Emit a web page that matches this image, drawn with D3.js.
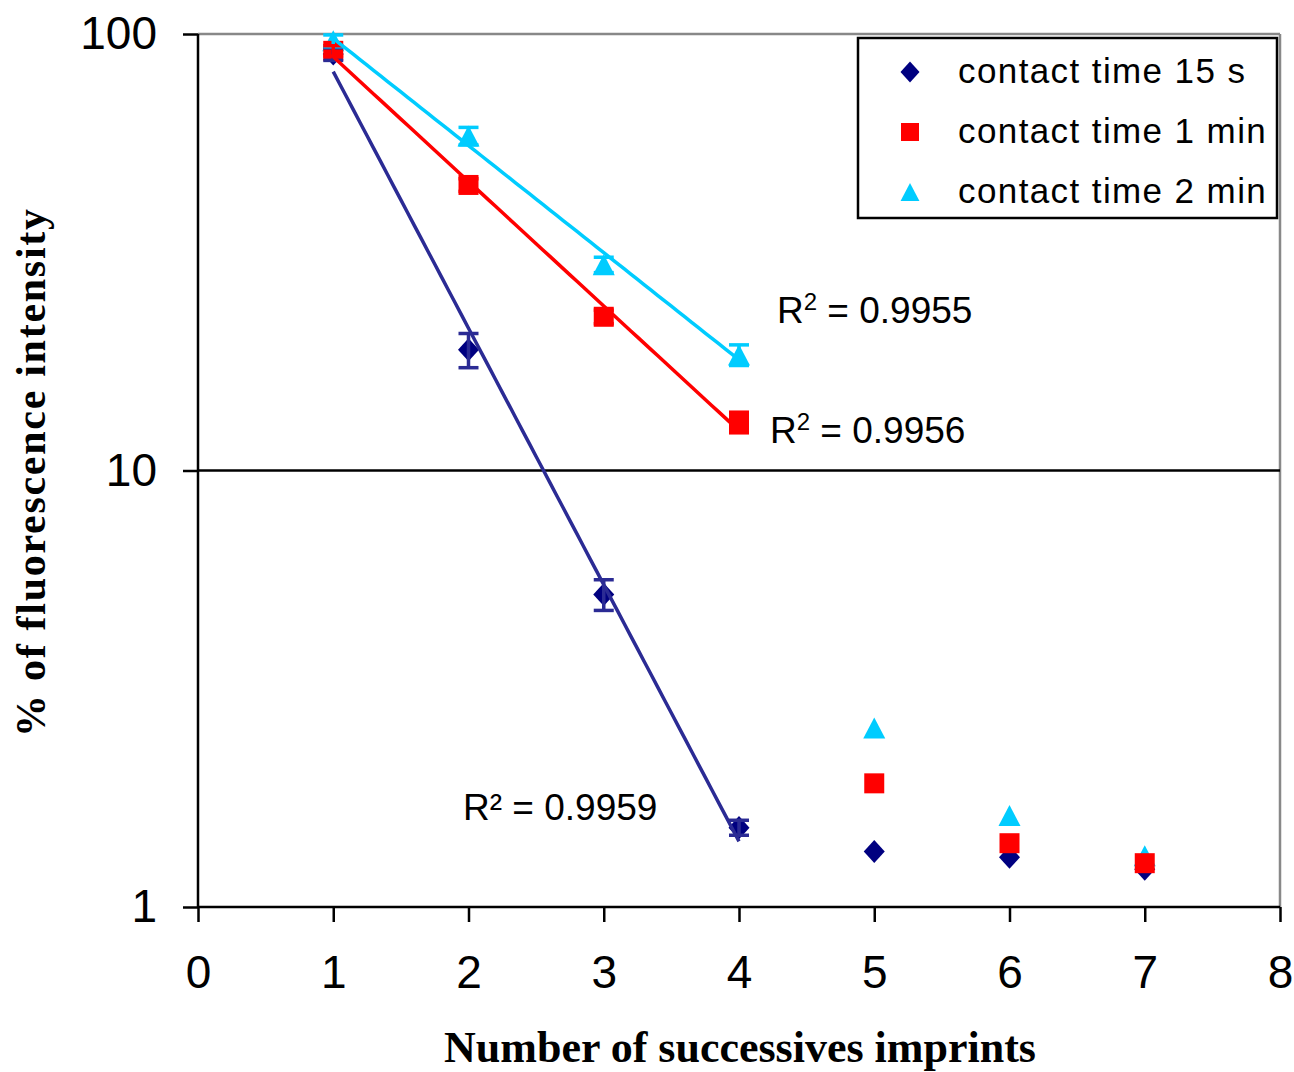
<!DOCTYPE html>
<html>
<head>
<meta charset="utf-8">
<script src="https://cdn.jsdelivr.net/npm/d3@7"></script>
<style>
	body { margin: 0; background: #fff; }
	svg { display: block; }
</style>
</head>
<body>
<div id="chart"></div>
<script>
// ---- data ----
const imprints = [1, 2, 3, 4, 5, 6, 7];
const series_names = ["contact time 15 s", "contact time 1 min", "contact time 2 min"];
const series_colours = ["#000080", "#FF0000", "#00CCFF"];
const line_colours = ["#2B2B94", "#FF0000", "#00CCFF"];
const vals_15s = [90, 18.9, 5.2, 1.52, 1.34, 1.30, 1.22];
const vals_1min = [91.5, 45.1, 22.5, 12.9, 1.92, 1.40, 1.26];
const vals_2min = [96.5, 58.4, 29.6, 18.4, 2.57, 1.62, 1.31];
const err_15s = [3, 1.7, 0.42, 0.06];
const err_1min = [2.5, 1.5, 0.8, 0.7];
const err_2min = [3, 2.7, 1.2, 1.0];
const fit_points = 4; // trend lines use the first 4 imprints
const r2_labels = ["0.9959", "0.9956", "0.9955"];
const y_ticks = [1, 10, 100];
const x_ticks = [0, 1, 2, 3, 4, 5, 6, 7, 8];

const W = 1294, H = 1072;
const pl = 198, pr = 1280, pt = 34, pb = 907;

const svg = d3.select("#chart").append("svg")
	.attr("width", W)
	.attr("height", H);

const x = d3.scaleLinear().domain([0, 8]).range([pl, pr]);
const y = d3.scaleLog().domain([1, 100]).range([pb, pt]);

const all_vals = [vals_15s, vals_1min, vals_2min];
const all_errs = [err_15s, err_1min, err_2min];

// plot area border (grey top + right) and gridline at 10
svg.append("line")
	.attr("x1", pl).attr("x2", pr).attr("y1", y(100)).attr("y2", y(100))
	.attr("stroke", "#888").attr("stroke-width", 2.5);
svg.append("line")
	.attr("x1", pr).attr("x2", pr).attr("y1", pt).attr("y2", pb)
	.attr("stroke", "#888").attr("stroke-width", 2.5);
svg.append("line")
	.attr("x1", pl).attr("x2", pr).attr("y1", y(10)).attr("y2", y(10))
	.attr("stroke", "#000").attr("stroke-width", 2.5);

// axes
const yAxis = svg.append("g")
	.attr("transform", `translate(${pl},0)`)
	.call(d3.axisLeft(y).tickValues(y_ticks).tickFormat(d3.format("d")).tickSize(15).tickPadding(26));
const xAxis = svg.append("g")
	.attr("transform", `translate(0,${pb})`)
	.call(d3.axisBottom(x).tickValues(x_ticks).tickFormat(d3.format("d")).tickSize(15).tickPadding(33));

[yAxis, xAxis].forEach(a => {
	a.selectAll(".domain").attr("stroke", "#000").attr("stroke-width", 2.5);
	a.selectAll(".tick line").attr("stroke", "#000").attr("stroke-width", 2.5);
	a.selectAll("text")
		.attr("fill", "#000")
		.style("font-family", "'Liberation Sans', Arial, sans-serif")
		.style("font-size", "46px");
});
// drop the outer ticks from the domain paths
yAxis.select(".domain").attr("d", `M0,${pt}V${pb}`);
xAxis.select(".domain").attr("d", `M${pl},0H${pr}`);

// marker shapes
function marker_path(kind, cx, cy, s) {
	if (kind == 0) { // diamond
		const w = s * 0.5, h = s * 0.55;
		return `M${cx},${cy - h}L${cx + w},${cy}L${cx},${cy + h}L${cx - w},${cy}Z`;
	}
	if (kind == 1) { // square
		const h = s * 0.5;
		return `M${cx - h},${cy - h}h${s}v${s}h${-s}Z`;
	}
	const h = s * 0.5; // triangle
	return `M${cx},${cy - h}L${cx + h * 1.05},${cy + h}L${cx - h * 1.05},${cy + h}Z`;
}

// exponential trend lines (least squares on log10)
function fit_line(vals) {
	const xs = imprints.slice(0, fit_points);
	const ys = vals.slice(0, fit_points).map(v => Math.log10(v));
	const mx = d3.mean(xs), my = d3.mean(ys);
	let sxy = 0, sxx = 0;
	xs.forEach((xv, i) => { sxy += (xv - mx) * (ys[i] - my); sxx += (xv - mx) ** 2; });
	const slope = sxy / sxx;
	const icpt = my - slope * mx;
	return d3.range(xs[0], xs[xs.length - 1] + 0.001, 0.05).map(t => [t, Math.pow(10, icpt + slope * t)]);
}

const line = d3.line().x(d => x(d[0])).y(d => y(d[1]));

// markers: draw order blue, cyan, red
const draw_order = [0, 2, 1];
draw_order.forEach(si => {
	const g = svg.append("g");
	g.selectAll("path.mk")
		.data(imprints.map((xv, i) => [xv, all_vals[si][i]]))
		.enter()
		.append("path")
		.attr("class", "mk")
		.attr("d", d => marker_path(si, x(d[0]), y(d[1]), si == 1 ? 20 : 21))
		.attr("fill", series_colours[si]);
});

// error bars
draw_order.forEach(si => {
	const g = svg.append("g")
		.attr("stroke", line_colours[si])
		.attr("stroke-width", 3.5)
		.attr("fill", "none");
	all_errs[si].forEach((e, i) => {
		const xv = x(imprints[i]);
		const v = all_vals[si][i];
		const y1 = y(v + e), y2 = y(v - e);
		g.append("line").attr("x1", xv).attr("x2", xv).attr("y1", y1).attr("y2", y2);
		g.append("line").attr("x1", xv - 10).attr("x2", xv + 10).attr("y1", y1).attr("y2", y1);
		g.append("line").attr("x1", xv - 10).attr("x2", xv + 10).attr("y1", y2).attr("y2", y2);
	});
});

// trend lines
draw_order.forEach(si => {
	svg.append("path")
		.datum(fit_line(all_vals[si]))
		.attr("d", line)
		.attr("fill", "none")
		.attr("stroke", line_colours[si])
		.attr("stroke-width", 3.5);
});

// R² labels
const r2_font = "'Liberation Sans', Arial, sans-serif";
const r2_pos = [[463, 820, true], [770, 443, false], [777, 323, false]];
r2_labels.forEach((lab, i) => {
	const [px, py, plain] = r2_pos[i];
	const t = svg.append("text")
		.attr("x", px).attr("y", py)
		.style("font-family", r2_font)
		.style("font-size", "37px")
		.attr("fill", "#000");
	if (plain) {
		t.text("R² = " + lab);
	} else {
		t.append("tspan").text("R");
		t.append("tspan").attr("dy", -13).style("font-size", "24px").text("2");
		t.append("tspan").attr("dy", 13).text(" = " + lab);
	}
});

// legend
const leg = svg.append("g");
leg.append("rect")
	.attr("x", 858).attr("y", 38)
	.attr("width", 419).attr("height", 180)
	.attr("fill", "#fff")
	.attr("stroke", "#000")
	.attr("stroke-width", 2.5);
series_names.forEach((name, i) => {
	const cy = 72 + i * 60;
	leg.append("path")
		.attr("d", marker_path(i, 910, cy, i == 0 ? 19 : 18))
		.attr("fill", series_colours[i]);
	leg.append("text")
		.attr("x", 958).attr("y", cy + 11)
		.style("font-family", "'Liberation Sans', Arial, sans-serif")
		.style("font-size", "35px")
		.style("letter-spacing", "1.4px")
		.attr("fill", "#000")
		.text(name);
});

// axis titles
svg.append("text")
	.attr("x", (pl + pr) / 2 + 1)
	.attr("y", 1062)
	.attr("text-anchor", "middle")
	.style("font-family", "'Liberation Serif', 'Times New Roman', serif")
	.style("font-weight", "bold")
	.style("font-size", "44px")
	.text("Number of successives imprints");

svg.append("text")
	.attr("transform", "translate(45,473) rotate(-90)")
	.attr("text-anchor", "middle")
	.attr("textLength", 528)
	.attr("lengthAdjust", "spacing")
	.style("font-family", "'Liberation Serif', 'Times New Roman', serif")
	.style("font-weight", "bold")
	.style("font-size", "42px")
	.text("% of fluorescence intensity");
</script>
</body>
</html>
